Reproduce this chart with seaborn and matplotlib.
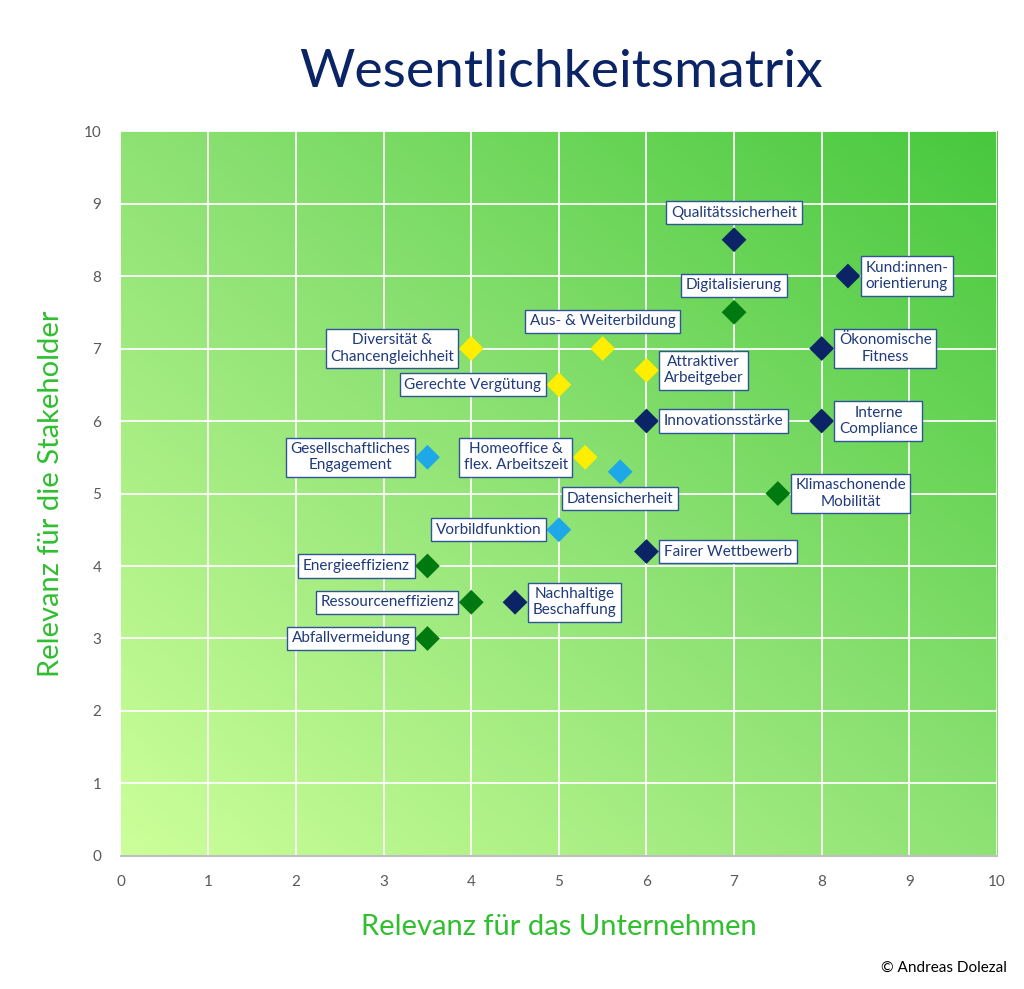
import numpy as np
import pandas as pd
import matplotlib
matplotlib.use('Agg')
import matplotlib.pyplot as plt
from matplotlib.colors import LinearSegmentedColormap
import seaborn as sns

# data
themen = ['Qualitätssicherheit', 'Kund:innen-\norientierung', 'Digitalisierung',
          'Aus- & Weiterbildung', 'Diversität &\nChancengleichheit', 'Gerechte Vergütung',
          'Attraktiver\nArbeitgeber', 'Innovationsstärke', 'Ökonomische\nFitness',
          'Interne\nCompliance', 'Gesellschaftliches\nEngagement', 'Homeoffice &\nflex. Arbeitszeit',
          'Datensicherheit', 'Klimaschonende\nMobilität', 'Vorbildfunktion', 'Fairer Wettbewerb',
          'Energieeffizienz', 'Ressourceneffizienz', 'Nachhaltige\nBeschaffung', 'Abfallvermeidung']
unternehmen = [7, 8.3, 7, 5.5, 4, 5, 6, 6, 8, 8, 3.5, 5.3, 5.7, 7.5, 5, 6, 3.5, 4, 4.5, 3.5]
stakeholder = [8.5, 8, 7.5, 7, 7, 6.5, 6.7, 6, 7, 6, 5.5, 5.5, 5.3, 5, 4.5, 4.2, 4, 3.5, 3.5, 3]
gruppe = ['Wirtschaft', 'Wirtschaft', 'Umwelt', 'Mitarbeitende', 'Mitarbeitende', 'Mitarbeitende',
          'Mitarbeitende', 'Wirtschaft', 'Wirtschaft', 'Wirtschaft', 'Gesellschaft', 'Mitarbeitende',
          'Gesellschaft', 'Umwelt', 'Gesellschaft', 'Wirtschaft', 'Umwelt', 'Umwelt', 'Wirtschaft', 'Umwelt']
# where the label box sits relative to its marker
seite = ['top', 'right', 'top', 'top', 'left', 'left', 'right', 'right', 'right', 'right',
         'left', 'left', 'bottom', 'right', 'left', 'right', 'left', 'left', 'right', 'left']

farben = {'Wirtschaft': '#0b2466', 'Umwelt': '#007a10', 'Mitarbeitende': '#ffee00',
          'Gesellschaft': '#1ea8e8'}

df = pd.DataFrame({'thema': themen, 'x': unternehmen, 'y': stakeholder,
                   'gruppe': gruppe, 'seite': seite})

sns.set_style('white')
plt.rcParams['font.family'] = ['Lato', 'DejaVu Sans']

fig = plt.figure(figsize=(10.24, 9.89), dpi=100)
ax = fig.add_axes([0.118, 0.1345, 0.8555, 0.733])

# diagonal green gradient background
cmap = LinearSegmentedColormap.from_list('gr', ['#ccff99', '#8ee274', '#48c83e'])
gx, gy = np.meshgrid(np.linspace(0, 1, 300), np.linspace(0, 1, 300))
ax.imshow((gx + gy) / 2, cmap=cmap, extent=[0, 10, 0, 10], origin='lower',
          aspect='auto', zorder=0)

for v in range(1, 11):
    ax.axvline(v, color='white', lw=1.3, zorder=1)
    ax.axhline(v, color='white', lw=1.3, zorder=1)

sns.scatterplot(data=df, x='x', y='y', hue='gruppe', palette=farben, marker='D',
                s=160, edgecolor='none', legend=False, ax=ax, zorder=3)

box = dict(boxstyle='square,pad=0.3', fc='white', ec='#2f5597', lw=1)
versatz = {'top': ((0, 19.5), 'center'), 'bottom': ((0, -19.5), 'center'),
           'left': ((-12.5, 0), 'right'), 'right': ((12.5, 0), 'left')}
for _, r in df.iterrows():
    off, ha = versatz[r['seite']]
    ax.annotate(r['thema'], (r['x'], r['y']), xytext=off, textcoords='offset points',
                ha=ha, va='center', multialignment='center', fontsize=11,
                color='#1f3a7a', bbox=box, zorder=4)

ax.set_xlim(0, 10)
ax.set_ylim(0, 10)
ax.set_xticks(range(0, 11))
ax.set_yticks(range(0, 11))
ax.tick_params(length=0, labelsize=11, labelcolor='#595959', pad=14)
for s in ['top', 'right', 'left']:
    ax.spines[s].set_visible(False)
ax.spines['bottom'].set_color('#bfbfbf')
ax.spines['bottom'].set_linewidth(1.5)

ax.set_xlabel('Relevanz für das Unternehmen', fontsize=21, color='#2fbf2f', labelpad=18)
ax.set_ylabel('Relevanz für die Stakeholder', fontsize=21, color='#2fbf2f', labelpad=14)

fig.text(0.548, 0.927, 'Wesentlichkeitsmatrix', ha='center', va='center',
         fontsize=38.5, color='#0b2466')
fig.text(0.983, 0.021, '© Andreas Dolezal', ha='right', va='center', fontsize=11, color='black')

fig.savefig('out.png', dpi=100)
